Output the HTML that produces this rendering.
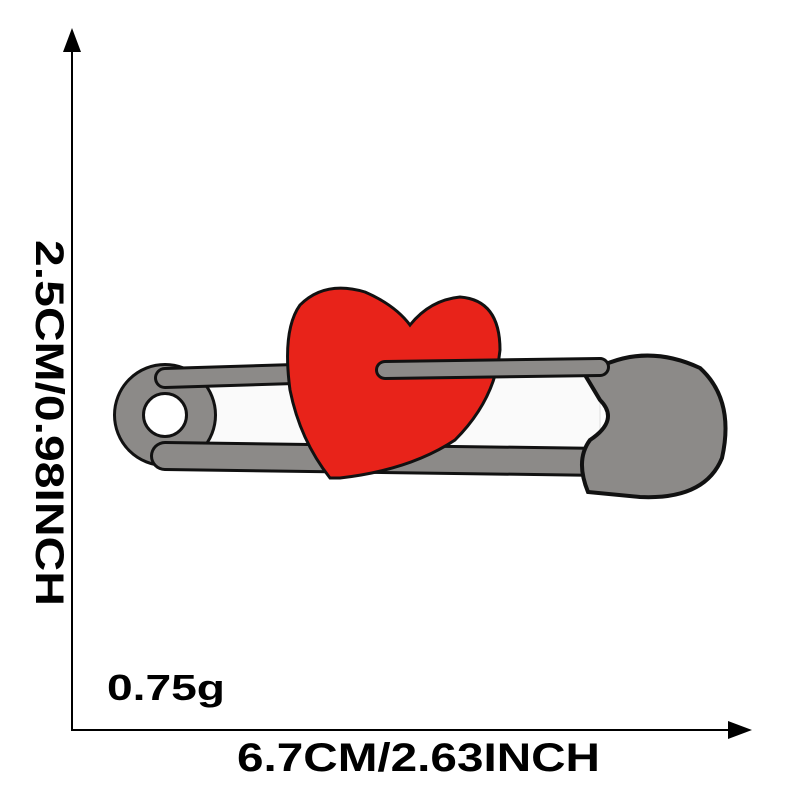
<!DOCTYPE html>
<html><head><meta charset="utf-8"><style>
html,body{margin:0;padding:0;background:#fff;}
svg{display:block;}
text{font-family:"Liberation Sans",sans-serif;font-weight:bold;fill:#000;}
</style></head><body>
<svg width="800" height="800" viewBox="0 0 800 800">
  <g>
    <line x1="72" y1="45" x2="72" y2="731" stroke="#000" stroke-width="2"/>
    <polygon points="72,28 63,52 81,52" fill="#000"/>
  </g>
  <g>
    <line x1="71" y1="730" x2="735" y2="730" stroke="#000" stroke-width="2"/>
    <polygon points="752,730 728,721 728,739" fill="#000"/>
  </g>
  <text transform="translate(36,240) rotate(90)" font-size="40" textLength="366" lengthAdjust="spacingAndGlyphs">2.5CM/0.98INCH</text>
  <text x="237" y="771" font-size="40" textLength="363" lengthAdjust="spacingAndGlyphs">6.7CM/2.63INCH</text>
  <text x="107" y="700" font-size="36" textLength="118" lengthAdjust="spacingAndGlyphs">0.75g</text>

  <g>
    <polygon points="195,378 600,362 600,462 195,458" fill="#fafafa" stroke="#ddd" stroke-width="1"/>
    <circle cx="165" cy="415" r="36" fill="none" stroke="#111" stroke-width="32"/>
    <circle cx="165" cy="415" r="36" fill="none" stroke="#8c8a88" stroke-width="26"/>
    <line x1="165" y1="456" x2="605" y2="462" stroke="#111" stroke-width="30" stroke-linecap="round"/>
    <line x1="165" y1="456" x2="605" y2="462" stroke="#8c8a88" stroke-width="24" stroke-linecap="round"/>
    <line x1="165" y1="378" x2="360" y2="372" stroke="#111" stroke-width="22" stroke-linecap="round"/>
    <line x1="165" y1="378" x2="360" y2="372" stroke="#8c8a88" stroke-width="16" stroke-linecap="round"/>
    <path d="M585,375 Q640,340 700,368 Q735,400 722,458 Q705,500 640,497 L588,492 Q575,460 590,440 Q620,420 600,400 Z" fill="#8c8a88" stroke="#111" stroke-width="4"/>
    <path d="M330,478 Q300,440 290,390 Q282,330 300,305 Q325,280 365,292 Q395,305 410,325 Q430,300 460,297 Q500,300 500,350 Q495,400 455,440 Q410,470 340,478 Z" fill="#e8231a" stroke="#111" stroke-width="3"/>
    <line x1="385" y1="370" x2="600" y2="367" stroke="#111" stroke-width="20" stroke-linecap="round"/>
    <line x1="385" y1="370" x2="600" y2="367" stroke="#8c8a88" stroke-width="14" stroke-linecap="round"/>
  </g>
</svg>
</body></html>
